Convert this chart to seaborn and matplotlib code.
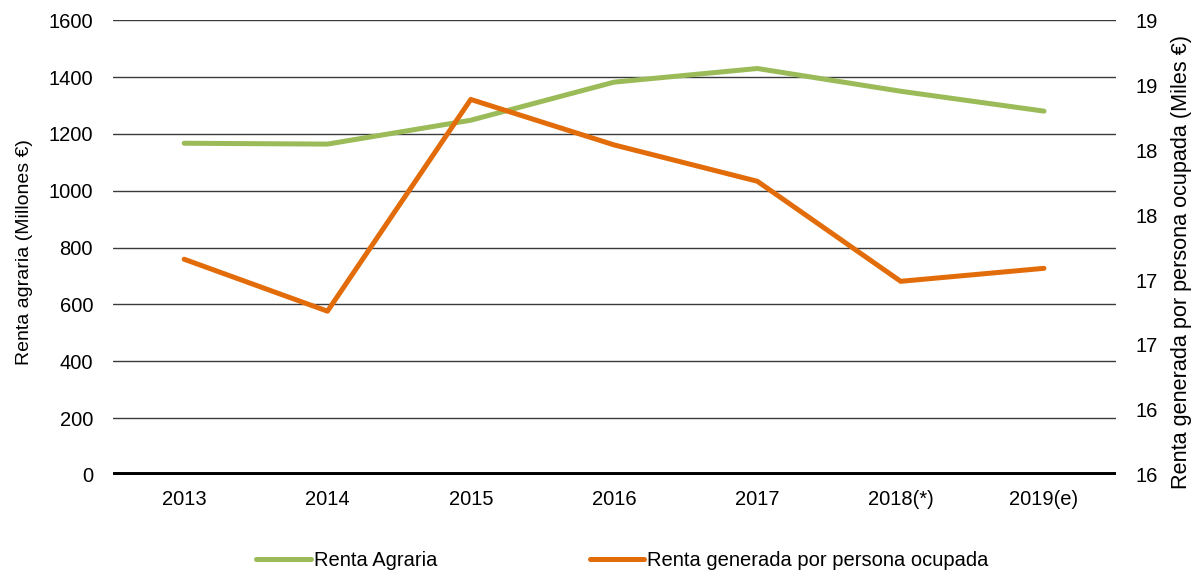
import numpy as np
import pandas as pd
import matplotlib
matplotlib.use("Agg")
import matplotlib.pyplot as plt
import matplotlib.ticker as mticker
import seaborn as sns

# Data
years = ["2013", "2014", "2015", "2016", "2017", "2018(*)", "2019(e)"]
renta_agraria = [1167, 1164, 1248, 1382, 1430, 1350, 1280]          # Millones €
renta_por_ocupado = [17.46, 17.06, 18.69, 18.34, 18.06, 17.29, 17.39]  # Miles €

left_ticks = [0, 200, 400, 600, 800, 1000, 1200, 1400, 1600]
right_ticks = [15.8, 16.3, 16.8, 17.3, 17.8, 18.3, 18.8, 19.3]

sns.set_theme(style="white")
plt.rcParams["font.family"] = ["Liberation Sans", "DejaVu Sans"]
plt.rcParams["text.color"] = "black"
plt.rcParams["axes.labelcolor"] = "black"
plt.rcParams["xtick.color"] = "black"
plt.rcParams["ytick.color"] = "black"

FS = 14.5
green = "#9BBB59"
orange = "#E36C0A"

df = pd.DataFrame({"x": np.arange(len(years)),
                   "agraria": renta_agraria,
                   "ocupado": renta_por_ocupado})

fig, ax = plt.subplots(figsize=(11.97, 5.77), dpi=100)
fig.subplots_adjust(left=0.094, right=0.932, top=0.965, bottom=0.177)
ax2 = ax.twinx()

# Horizontal gridlines on the left scale
for t in left_ticks[1:]:
    ax.axhline(t, color="#3a3a3a", lw=1.0, zorder=0)
ax.axhline(0, color="black", lw=5, zorder=1)

sns.lineplot(data=df, x="x", y="agraria", ax=ax, color=green, lw=3.6,
             solid_capstyle="round", label="Renta Agraria", legend=False, zorder=3)
sns.lineplot(data=df, x="x", y="ocupado", ax=ax2, color=orange, lw=3.6,
             solid_capstyle="round", label="Renta generada por persona ocupada",
             legend=False, zorder=3)

ax.set_xlim(-0.5, len(years) - 0.5)
ax.set_ylim(0, 1600)
ax.set_yticks(left_ticks)
ax.set_yticklabels([str(t) for t in left_ticks], fontsize=FS)
ax.set_xticks(df["x"])
ax.set_xticklabels(years, fontsize=FS)
ax.tick_params(axis="x", length=0, pad=11)
ax.tick_params(axis="y", length=0, pad=14)
ax.set_xlabel("")
ax.set_ylabel("Renta agraria (Millones €)", fontsize=14)
ax.yaxis.set_label_coords(-0.0795, 0.49)

ax2.set_ylim(right_ticks[0], right_ticks[-1])
ax2.set_yticks(right_ticks)
ax2.yaxis.set_major_formatter(mticker.FuncFormatter(lambda v, p: str(int(round(v)))))
ax2.tick_params(axis="y", length=0, pad=14, labelsize=FS)
ax2.set_ylabel("Renta generada por persona ocupada (Miles €)", fontsize=15.6)
ax2.yaxis.set_label_coords(1.055, 0.468)
ax2.grid(False)

for a in (ax, ax2):
    for s in a.spines.values():
        s.set_visible(False)

h1, l1 = ax.get_legend_handles_labels()
h2, l2 = ax2.get_legend_handles_labels()
fig.legend(h1 + h2, l1 + l2, loc="center", bbox_to_anchor=(0.52, 0.029),
           ncol=2, frameon=False, fontsize=FS, handlelength=2.7,
           handletextpad=0.15, columnspacing=7.6)

fig.savefig("out.png", dpi=100)
